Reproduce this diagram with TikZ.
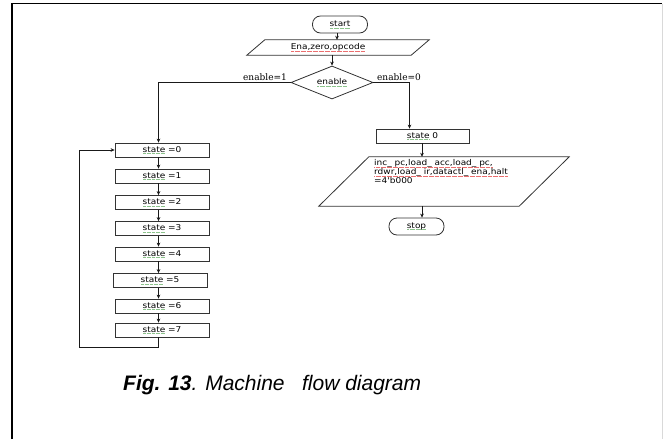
\documentclass[tikz,border=0pt]{standalone}
\usepackage{fontspec}
\usetikzlibrary{shapes.geometric,arrows.meta,calc}
\newfontfamily\boxfont[FakeStretch=1.12]{DejaVu Sans}
\newfontfamily\labfont{DejaVu Serif}
\newfontfamily\capfont{Liberation Sans}
\definecolor{sqgreen}{RGB}{140,195,140}
\definecolor{sqred}{RGB}{235,110,110}
% dotted spell-check style underlines
\newsavebox\sqbox
\newcommand\squig[2]{\leavevmode\sbox\sqbox{#2}%
  \rlap{\raisebox{-1.4pt}{\textcolor{#1}{\hbox to\wd\sqbox{\xleaders\hbox to 1.2pt{\hss\rule{0.7pt}{0.4pt}\hss}\hfill}}}}%
  \usebox\sqbox}
\newcommand\gsq[1]{\squig{sqgreen}{#1}}
\newcommand\rsq[1]{\squig{sqred}{#1}}
\begin{document}
\begin{tikzpicture}[x=1pt,y=-1pt,
  >={Stealth[length=4pt,width=3.6pt]},
  conn/.style={draw=black!90, line width=0.6pt},
  boxline/.style={draw=black!80, line width=0.8pt},
  boxtext/.style={font=\boxfont\fontsize{8}{9}\selectfont},
  stateb/.style={boxline, boxtext, rectangle, minimum width=94pt, minimum height=14pt, inner sep=0pt},
  term/.style={boxline, boxtext, rectangle, rounded corners=8pt, minimum width=55pt, minimum height=17pt, inner sep=0pt},
  iobody/.style={rectangle, inner sep=0pt},
  decision/.style={boxline, boxtext, diamond, aspect=2.5, minimum width=82pt, minimum height=33pt, inner sep=0pt},
  lab/.style={font=\labfont\fontsize{9}{10}\selectfont, inner sep=0pt}]
\useasboundingbox (0,0) rectangle (663,439);

% page frame
\draw[line width=1.5pt] (12,439) -- (12,3.5) -- (662,3.5);
\draw[black!15, line width=1pt] (662,3.5) -- (662,439);

% column guides for the connectors
\coordinate (cx1) at (337,0);
\coordinate (lx) at (158.5,0);
\coordinate (rx) at (409.5,0);
\coordinate (cx2) at (422,0);

% start and inputs
\node[term] (start) at (340,24.5) {\gsq{start}};
\node[iobody, minimum width=164pt, minimum height=15pt] (inp) at (338,47.5) {};
\draw[boxline] ($(inp.north west)+(9,0)$) -- ($(inp.north east)+(9,0)$)
  -- ($(inp.south east)+(-9,0)$) -- ($(inp.south west)+(-9,0)$) -- cycle;
\node[boxtext, inner sep=0pt] (inptxt) at (328,47.5) {\rsq{Ena,zero,opcode}};

% decision
\node[decision] (dec) at (332,82.5) {\gsq{enable}};
\node[lab] (l1) at (265,77) {enable=1};
\node[lab] (l0) at (399,77) {enable=0};

\draw[conn,->] (start.south -| cx1) -- (inp.north -| cx1);
\draw[conn,->] (inp.south -| dec) -- (dec.north);

% state sequence
\foreach \i/\x/\y in {0/162/150, 1/162/176, 2/162/202.5, 3/162/228.5,
                      4/162/254, 5/160/280.5, 6/162/306, 7/162/330}
  \node[stateb] (s\i) at (\x,\y) {\gsq{state} =\i};
\foreach \i [evaluate=\i as \j using int(\i+1)] in {0,...,6}
  \draw[conn,->] (s\i.south -| lx) -- (s\j.north -| lx);

\draw[conn,->] (dec.west) -- (dec.west -| lx) -- (s0.north -| lx);
\coordinate (lb) at (79,347);
\draw[conn,->] (s7.south -| lx) |- (lb) |- (s0.west);

% reset branch
\node[stateb, minimum width=93pt] (sr) at (422.5,136) {\gsq{state} 0};
\draw[conn,->] (dec.east) -- (dec.east -| rx) -- (sr.north -| rx);

\node[iobody, minimum width=200pt, minimum height=49pt] (out) at (444,181.5) {};
\draw[boxline] ($(out.north west)+(25,0)$) -- ($(out.north east)+(25,0)$)
  -- ($(out.south east)+(-25,0)$) -- ($(out.south west)+(-25,0)$) -- cycle;
\node[font=\boxfont\fontsize{8}{8.8}\selectfont, align=left, anchor=north west, inner sep=0pt]
  (outtxt) at (374,159.5)
  {\rsq{inc\_ pc,load\_ acc,load\_ pc,}\\\rsq{rdwr,load\_ ir,datactl\_ ena,halt}\\=4'b000};
\draw[conn,->] (sr.south -| cx2) -- (out.north -| cx2);

\node[term] (stop) at (416.5,226.5) {\gsq{stop}};
\draw[conn,->] (out.south -| cx2) -- (stop.north -| cx2);

% caption
\node[anchor=base west, inner sep=0pt, font=\capfont\fontsize{21}{25}\selectfont] (cap) at (123,390)
  {\textbf{\textit{Fig. 13}}\textit{. Machine\ \ \ flow diagram}};
\end{tikzpicture}
\end{document}
